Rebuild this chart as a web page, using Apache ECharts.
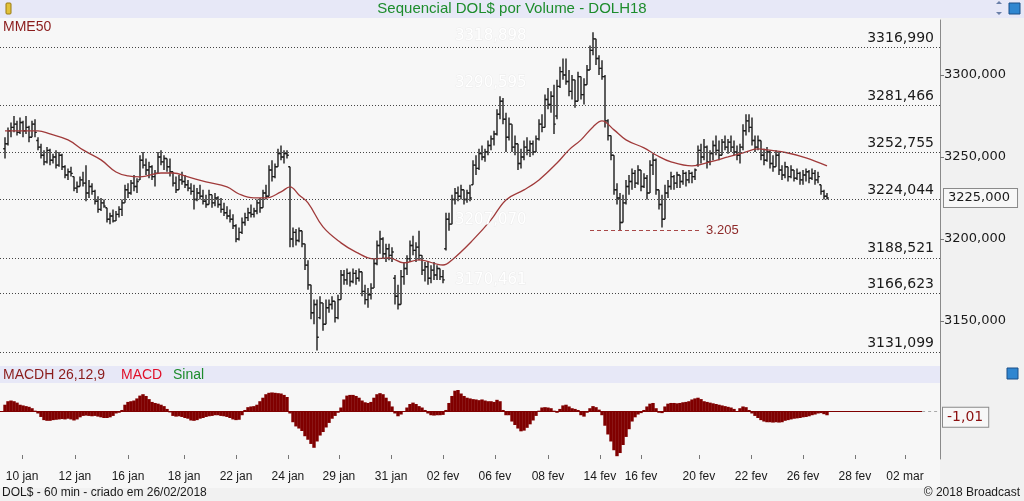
<!DOCTYPE html>
<html><head><meta charset="utf-8">
<script src="https://cdn.jsdelivr.net/npm/echarts@6/dist/echarts.min.js"></script>
<style>html,body{margin:0;padding:0;background:#f1f1f1;}#c{width:1024px;height:501px;}</style>
</head><body><div id="c"></div>
<script>
// [open, high, low, close] per bar
const priceBars = [
[3255,3262,3249,3258],[3258,3268,3257,3266],[3266,3271,3262,3268],[3268,3275,3265,3270],[3270,3272,3263,3265],
[3265,3274,3264,3271],[3271,3272,3262,3266],[3266,3275,3264,3268],[3268,3269,3259,3262],[3262,3272,3262,3270],
[3270,3273,3262,3265],[3260,3262,3254,3256],[3256,3258,3249,3251],[3251,3254,3245,3247],[3247,3256,3246,3254],
[3254,3255,3245,3248],[3248,3252,3246,3250],[3250,3254,3243,3245],[3245,3253,3244,3251],[3251,3252,3242,3244],
[3244,3245,3237,3239],[3239,3243,3236,3241],[3241,3244,3238,3240],[3238,3238,3229,3231],[3231,3235,3228,3232],
[3232,3238,3232,3236],[3236,3241,3232,3234],[3234,3245,3223,3228],[3228,3236,3225,3232],[3232,3234,3227,3229],
[3229,3230,3221,3223],[3223,3226,3216,3218],[3218,3225,3217,3222],[3222,3224,3219,3220],[3219,3219,3210,3212],
[3212,3216,3209,3214],[3214,3218,3210,3211],[3211,3217,3211,3215],[3215,3220,3213,3218],[3218,3224,3214,3222],
[3222,3233,3222,3230],[3230,3234,3225,3228],[3228,3236,3227,3234],[3234,3239,3229,3232],[3232,3237,3228,3235],
[3236,3251,3236,3248],[3248,3253,3243,3245],[3245,3249,3239,3242],[3242,3247,3237,3244],[3244,3245,3236,3238],
[3238,3242,3232,3240],[3240,3253,3240,3250],[3250,3254,3245,3247],[3247,3251,3242,3249],[3249,3249,3241,3244],
[3244,3249,3238,3241],[3241,3241,3232,3234],[3234,3238,3228,3230],[3230,3239,3230,3236],[3236,3241,3233,3235],
[3235,3239,3231,3233],[3233,3236,3229,3231],[3231,3234,3227,3229],[3229,3233,3218,3224],[3224,3231,3223,3228],
[3228,3233,3224,3226],[3226,3230,3221,3223],[3223,3227,3219,3221],[3221,3230,3221,3227],[3227,3227,3219,3222],
[3222,3228,3220,3225],[3225,3226,3219,3221],[3221,3225,3216,3218],[3218,3222,3214,3216],[3216,3220,3212,3214],
[3214,3218,3210,3212],[3212,3215,3206,3208],[3208,3209,3198,3200],[3200,3207,3199,3204],[3204,3213,3203,3210],
[3210,3216,3208,3213],[3213,3219,3211,3216],[3216,3221,3213,3215],[3215,3219,3213,3217],[3217,3224,3215,3222],
[3222,3225,3216,3219],[3219,3230,3219,3228],[3228,3233,3224,3226],[3226,3245,3226,3242],[3242,3248,3235,3238],
[3238,3246,3237,3244],[3244,3255,3244,3252],[3252,3257,3248,3250],[3250,3254,3246,3252],[3252,3254,3249,3251],
[3244,3244,3195,3200],[3200,3207,3195,3204],[3204,3206,3196,3199],[3199,3207,3198,3205],[3205,3205,3195,3197],
[3197,3197,3181,3184],[3184,3187,3169,3172],[3172,3172,3151,3155],[3155,3163,3148,3160],[3160,3163,3132,3140],
[3152,3165,3151,3161],[3161,3161,3144,3148],[3148,3163,3148,3158],[3158,3163,3155,3160],[3160,3165,3157,3162],
[3162,3162,3149,3152],[3152,3166,3151,3163],[3163,3181,3163,3178],[3178,3181,3172,3175],[3175,3182,3172,3179],
[3179,3180,3171,3174],[3174,3182,3173,3179],[3179,3181,3172,3176],[3176,3182,3174,3180],[3180,3180,3165,3168],
[3168,3172,3160,3163],[3163,3170,3158,3166],[3166,3173,3163,3170],[3170,3188,3170,3185],[3185,3199,3184,3196],
[3196,3205,3191,3200],[3200,3201,3188,3191],[3191,3197,3186,3194],[3194,3197,3187,3190],[3190,3195,3186,3192],
[3176,3178,3160,3165],[3165,3172,3157,3160],[3160,3181,3160,3177],[3177,3186,3172,3182],[3182,3190,3178,3188],
[3188,3199,3186,3196],[3196,3202,3190,3193],[3193,3198,3186,3195],[3195,3205,3187,3190],[3190,3190,3178,3181],
[3181,3186,3174,3183],[3183,3186,3172,3176],[3176,3184,3173,3181],[3181,3186,3175,3178],[3178,3184,3175,3182],
[3182,3182,3175,3177],[3177,3181,3173,3175],[3194,3216,3193,3212],[3212,3216,3205,3209],[3209,3227,3209,3224],
[3224,3231,3221,3228],[3228,3232,3223,3226],[3226,3233,3224,3230],[3230,3230,3221,3224],[3224,3230,3222,3228],
[3228,3233,3223,3225],[3233,3248,3233,3245],[3245,3251,3239,3243],[3243,3255,3242,3252],[3252,3257,3248,3250],
[3250,3255,3247,3253],[3253,3260,3251,3257],[3257,3263,3254,3261],[3261,3266,3257,3264],[3264,3279,3263,3276],
[3276,3287,3273,3284],[3284,3286,3270,3273],[3273,3277,3253,3262],[3262,3274,3260,3270],[3270,3270,3253,3256],
[3256,3263,3251,3258],[3258,3258,3242,3246],[3246,3255,3243,3250],[3250,3260,3248,3256],[3256,3262,3251,3254],
[3254,3260,3250,3258],[3258,3260,3251,3253],[3253,3263,3253,3261],[3261,3273,3260,3270],[3270,3276,3265,3268],
[3268,3288,3268,3285],[3285,3292,3279,3282],[3282,3290,3277,3287],[3287,3294,3264,3270],[3275,3297,3273,3293],
[3293,3305,3292,3302],[3302,3310,3297,3300],[3300,3310,3294,3296],[3296,3303,3287,3290],[3290,3300,3285,3297],
[3297,3297,3280,3284],[3284,3302,3284,3299],[3299,3299,3285,3288],[3288,3298,3282,3294],[3294,3306,3294,3303],
[3303,3318,3303,3315],[3315,3326,3312,3322],[3322,3322,3306,3310],[3310,3312,3300,3304],[3304,3309,3297,3299],
[3299,3300,3268,3272],[3272,3273,3260,3263],[3263,3263,3248,3251],[3251,3251,3227,3230],[3230,3234,3221,3225],
[3225,3228,3205,3210],[3210,3227,3210,3222],[3222,3236,3221,3232],[3232,3239,3227,3235],[3235,3243,3230,3240],
[3240,3242,3231,3234],[3234,3245,3233,3242],[3242,3242,3229,3232],[3232,3240,3231,3237],[3237,3239,3224,3228],
[3228,3248,3228,3245],[3245,3252,3239,3248],[3248,3249,3227,3230],[3230,3230,3218,3221],[3221,3227,3207,3212],
[3212,3233,3212,3228],[3228,3236,3225,3232],[3232,3241,3230,3238],[3238,3239,3230,3234],[3234,3241,3231,3239],
[3239,3239,3231,3235],[3235,3242,3233,3240],[3240,3241,3232,3236],[3236,3242,3234,3240],[3240,3241,3234,3238],
[3238,3243,3236,3242],[3245,3257,3244,3254],[3254,3258,3246,3250],[3250,3261,3248,3256],[3256,3257,3243,3247],
[3247,3254,3245,3252],[3252,3260,3248,3257],[3257,3263,3251,3254],[3254,3260,3248,3251],[3251,3261,3251,3259],
[3259,3263,3254,3256],[3256,3261,3252,3259],[3259,3263,3253,3256],[3256,3260,3251,3253],[3253,3257,3248,3251],
[3251,3258,3246,3256],[3256,3270,3254,3266],[3266,3276,3263,3272],[3272,3276,3265,3268],[3268,3274,3257,3260],
[3260,3263,3253,3256],[3256,3263,3254,3260],[3260,3260,3248,3251],[3251,3255,3245,3248],[3248,3256,3247,3253],
[3253,3254,3243,3246],[3246,3251,3241,3244],[3244,3254,3244,3251],[3251,3253,3239,3242],[3242,3245,3236,3239],
[3239,3247,3237,3244],[3244,3244,3235,3238],[3238,3245,3237,3242],[3242,3242,3235,3237],[3237,3243,3236,3240],
[3240,3241,3233,3236],[3236,3242,3233,3239],[3239,3243,3235,3241],[3241,3242,3234,3237],[3237,3243,3236,3240],
[3240,3242,3233,3236],[3236,3241,3234,3238],[3233,3233,3227,3229],[3229,3230,3224,3226],[3226,3228,3224,3225]
];
// MME50 readings (bar index, value)
const mmeIdx = [0,11,15,21,26,32,37,41,45,52,56,61,67,74,78,83,87,92,95,98,101,106,112,117,123,128,133,138,146,149,156,162,167,173,178,184,188,192,196,199,203,207,213,217,222,229,235,241,246,251,254,261,267,274];
const mmeVal = [3265.9,3265.9,3264,3260.4,3254.3,3248.2,3240.8,3238.4,3237.8,3240.2,3240.2,3237.8,3234.8,3231.7,3227.4,3225,3225,3228.7,3231.7,3226.8,3222,3207.3,3197.6,3192,3187.8,3188.4,3185.4,3187.2,3184.1,3187.2,3199.4,3211.6,3223.8,3229.9,3236,3246.3,3254.3,3260.4,3268.3,3272,3266.5,3260.4,3255.5,3251.2,3247,3244.5,3247,3250,3252.5,3254.9,3254.3,3252.4,3249.4,3244.5];
// MACD histogram per bar
const macdHist = [
2.0,3.0,3.2,3.0,2.6,2.0,1.8,1.6,1.4,1.0,
0.3,-0.5,-1.5,-2.4,-2.6,-2.6,-2.4,-2.3,-2.2,-2.1,
-2.2,-2.0,-2.2,-2.5,-2.2,-1.6,-1.2,-1.1,-1.2,-1.3,
-1.2,-1.4,-1.6,-1.8,-1.8,-1.6,-1.2,-0.5,-0.3,0.5,
2.0,2.8,3.0,3.2,3.8,4.6,5.0,4.5,3.6,2.8,
2.5,2.3,2.0,1.6,0.8,-0.2,-1.2,-1.4,-1.3,-1.5,
-1.8,-2.0,-2.5,-2.6,-2.4,-2.0,-1.8,-1.5,-1.3,-1.2,
-1.0,-1.0,-1.2,-1.3,-1.5,-1.8,-2.2,-2.4,-2.3,-1.0,
0.5,1.3,1.5,1.6,2.0,3.0,4.0,5.0,5.4,5.5,
5.4,5.3,5.2,4.8,4.2,-0.5,-3.0,-4.2,-4.8,-5.5,
-7.0,-8.0,-9.2,-10.3,-8.5,-6.8,-5.8,-4.5,-3.2,-2.0,
-1.2,-0.3,1.2,3.5,4.6,4.8,4.8,4.5,4.0,3.2,
2.7,2.5,2.8,4.0,5.0,5.3,5.0,4.0,3.0,1.5,
-0.5,-1.3,-0.8,0.2,1.2,2.2,2.6,2.2,1.6,1.2,
0.5,-0.5,-1.0,-1.1,-1.0,-1.0,-0.9,0.5,2.5,4.5,
6.0,6.2,5.2,4.5,4.0,3.8,3.6,3.5,3.3,3.5,
3.2,3.0,3.0,2.8,3.4,3.0,0.5,-1.0,-1.0,-2.8,
-3.8,-4.8,-5.6,-5.4,-4.6,-3.6,-2.5,-1.2,0.3,1.2,
1.3,1.2,1.0,0.3,-0.3,0.8,1.8,2.0,1.5,1.0,
0.8,0.5,-1.0,-1.4,-0.3,1.0,1.6,1.3,0.6,-1.0,
-4.0,-6.5,-8.5,-11.0,-12.7,-11.8,-9.5,-7.2,-5.0,-2.8,
-1.6,-0.8,-0.4,0.5,1.5,2.3,2.5,1.0,-0.3,-0.4,
1.5,2.3,2.5,2.5,2.4,2.5,2.7,2.8,3.0,3.5,
3.8,4.0,3.6,3.0,2.8,2.6,2.4,2.2,2.0,1.8,
1.6,1.4,1.2,0.8,0.2,1.0,1.5,1.3,0.5,-0.5,
-1.2,-1.8,-2.4,-2.8,-3.0,-3.0,-3.1,-3.0,-3.1,-3.0,
-2.6,-2.4,-2.2,-2.0,-1.9,-1.8,-1.6,-1.5,-1.3,-1.0,
-0.8,-0.5,-0.4,-0.7,-1.01
];
const levelValues = [3316.990, 3281.466, 3252.755, 3224.044, 3188.521, 3166.623, 3131.099];
const ghostLevels = [3318.898, 3290.595, 3207.070, 3170.461];
const supportValue = 3205;
const lastPrice = 3225;
const lastMacd = -1.01;
const priceTicks = [3150, 3200, 3250, 3300];
const dateLabels = ['10 jan','12 jan','16 jan','18 jan','22 jan','24 jan','29 jan','31 jan','02 fev','06 fev','08 fev','14 fev','16 fev','20 fev','22 fev','26 fev','28 fev','02 mar'];
const datePos = [5.7,23.3,41,59.7,77,94.3,111.3,128.7,146,163.3,181,198.3,212,231.3,248.7,266,283.3,300];

const fmt3 = v => v.toFixed(3).replace('.', ',');
const X_MIN = -5/3, X_MAX = -5/3 + 940/3;
const ohlcData = priceBars.map((b, i) => [i, b[0], b[1], b[2], b[3]]);
const mmeData = mmeIdx.map((ix, k) => [ix, mmeVal[k]]);
const macdData = macdHist.map((v, i) => [i, v]);
const labelMap = {}; datePos.forEach((p, k) => labelMap[p] = dateLabels[k]);

const VERD = 'DejaVu Sans';
const ARIAL = 'Liberation Sans, Arial, sans-serif';
const CLEAR = 'rgba(0,0,0,0)';

function renderOHLC(params, api) {
  const i = api.value(0);
  const pO = api.coord([i, api.value(1)]);
  const pH = api.coord([i, api.value(2)]);
  const pL = api.coord([i, api.value(3)]);
  const pC = api.coord([i, api.value(4)]);
  const x = pH[0];
  const st = { stroke: '#1c1c1c', lineWidth: 1.4 };
  return { type: 'group', children: [
    { type: 'line', shape: { x1: x, y1: pH[1], x2: x, y2: pL[1] }, style: st },
    { type: 'line', shape: { x1: x - 1.8, y1: pO[1], x2: x, y2: pO[1] }, style: st },
    { type: 'line', shape: { x1: x, y1: pC[1], x2: x + 1.8, y2: pC[1] }, style: st }
  ]};
}

const levelLines = levelValues.map(v => ({
  yAxis: v,
  lineStyle: { color: '#444', type: [1, 2], width: 1 },
  label: { show: true, position: 'insideEndTop', formatter: fmt3(v), color: '#1a1a1a', fontSize: 14, fontFamily: VERD, distance: [6, 2] }
}));
const ghostLines = ghostLevels.map(v => ([
  { coord: [150, v], lineStyle: { color: CLEAR, width: 0 }, label: { show: true, position: 'insideStartTop', formatter: fmt3(v), color: '#ffffff', fontSize: 15, fontFamily: VERD, distance: [0, 0], textBorderColor: '#ececec', textBorderWidth: 1 } },
  { coord: [172, v] }
]));
const supportLine = [
  { coord: [195, supportValue], lineStyle: { color: '#a84848', type: [4, 3], width: 1 }, label: { show: true, position: 'end', formatter: '3.205', color: '#8e2a2a', fontSize: 13, fontFamily: ARIAL, distance: 6 } },
  { coord: [231.7, supportValue] }
];
const lastPriceLine = {
  yAxis: lastPrice, lineStyle: { color: CLEAR, width: 0 },
  label: { show: true, position: 'end', formatter: fmt3(lastPrice), color: '#1a1a1a', fontSize: 13, fontFamily: VERD,
    backgroundColor: '#f7f7f7', borderColor: '#8a8a8a', borderWidth: 1, padding: [3, 7, 2, 4], distance: 4 }
};

const chart = echarts.init(document.getElementById('c'), null, { renderer: 'canvas' });
chart.setOption({
  animation: false,
  backgroundColor: '#f1f1f1',
  grid: [
    { left: 0, top: 20, width: 940, height: 337, show: true, backgroundColor: '#f7f7f7', borderWidth: 0 },
    { left: 0, top: 383, width: 940, height: 76, show: true, backgroundColor: '#f7f7f7', borderWidth: 0 }
  ],
  xAxis: [
    { type: 'value', gridIndex: 0, min: X_MIN, max: X_MAX, show: false },
    { type: 'value', gridIndex: 1, min: X_MIN, max: X_MAX,
      axisLine: { show: false, onZero: false }, splitLine: { show: false },
      axisTick: { show: true, inside: true, length: 4, lineStyle: { color: '#777' }, customValues: datePos },
      axisLabel: { show: true, customValues: datePos, formatter: v => labelMap[v] || '', color: '#1a1a1a', fontSize: 12, fontFamily: ARIAL, margin: 12 } }
  ],
  yAxis: [
    { type: 'value', gridIndex: 0, position: 'right', min: 3128, max: 3333.5,
      axisLine: { show: true, onZero: false, lineStyle: { color: '#8a8a8a' } }, splitLine: { show: false },
      axisTick: { show: true, length: 4, lineStyle: { color: '#777' }, customValues: priceTicks },
      axisLabel: { show: true, customValues: priceTicks, formatter: v => fmt3(v), color: '#1a1a1a', fontSize: 13, fontFamily: VERD, margin: 4 } },
    { type: 'value', gridIndex: 1, position: 'right', min: -13.5, max: 8.2,
      axisLine: { show: true, onZero: false, lineStyle: { color: '#8a8a8a' } }, splitLine: { show: false },
      axisTick: { show: false }, axisLabel: { show: false } }
  ],
  graphic: [
    { type: 'rect', z: -10, shape: { x: 0, y: 0, width: 1024, height: 18 }, style: { fill: '#e7e8f7' } },
    { type: 'rect', z: -10, shape: { x: 0, y: 18, width: 940, height: 470 }, style: { fill: '#f7f7f7' } },
    { type: 'rect', z: 5, shape: { x: 0, y: 366, width: 940, height: 17 }, style: { fill: '#e7e8f7' } },
    { type: 'line', z: 5, shape: { x1: 940.5, y1: 357, x2: 940.5, y2: 383 }, style: { stroke: '#8a8a8a', lineWidth: 1 } },
    { type: 'text', z: 6, x: 512, y: 9, style: { text: 'Sequencial DOL$ por Volume - DOLH18', fill: '#1d8c2c', font: '15px ' + ARIAL, textAlign: 'center', textVerticalAlign: 'middle' } },
    { type: 'text', z: 6, x: 3, y: 27, style: { text: 'MME50', fill: '#8b1c1c', font: '14px ' + ARIAL, textVerticalAlign: 'middle' } },
    { type: 'text', z: 6, x: 3, y: 375, style: { text: 'MACDH 26,12,9', fill: '#8b1c1c', font: '14px ' + ARIAL, textVerticalAlign: 'middle' } },
    { type: 'text', z: 6, x: 121, y: 375, style: { text: 'MACD', fill: '#e0102a', font: '14px ' + ARIAL, textVerticalAlign: 'middle' } },
    { type: 'text', z: 6, x: 173, y: 375, style: { text: 'Sinal', fill: '#1d8c2c', font: '14px ' + ARIAL, textVerticalAlign: 'middle' } },
    { type: 'text', z: 6, x: 2, y: 493, style: { text: 'DOL$ - 60 min - criado em 26/02/2018', fill: '#1a1a1a', font: '12px ' + ARIAL, textVerticalAlign: 'middle' } },
    { type: 'text', z: 6, x: 1020, y: 493, style: { text: '© 2018 Broadcast', fill: '#1a1a1a', font: '12px ' + ARIAL, textAlign: 'right', textVerticalAlign: 'middle' } },
    { type: 'rect', z: 6, shape: { x: 6, y: 3, width: 5, height: 11, r: 1 }, style: { fill: '#e2c23a', stroke: '#9a7a10', lineWidth: 1 } },
    { type: 'polygon', z: 6, shape: { points: [[996, 4], [999, 1], [1002, 4]] }, style: { fill: '#6a7fa8' } },
    { type: 'polygon', z: 6, shape: { points: [[996, 12], [999, 15], [1002, 12]] }, style: { fill: '#6a7fa8' } },
    { type: 'rect', z: 6, shape: { x: 1009, y: 3, width: 11, height: 11 }, style: { fill: '#2f86d0', stroke: '#1a4f88', lineWidth: 1 } },
    { type: 'rect', z: 6, shape: { x: 1007, y: 368, width: 11, height: 11 }, style: { fill: '#2f86d0', stroke: '#1a4f88', lineWidth: 1 } }
  ],
  series: [
    { type: 'custom', name: 'DOL$', xAxisIndex: 0, yAxisIndex: 0, renderItem: renderOHLC, data: ohlcData,
      encode: { x: 0, y: [1, 2, 3, 4] }, clip: true, z: 3 },
    { type: 'line', name: 'MME50', xAxisIndex: 0, yAxisIndex: 0, data: mmeData, smooth: 0.4, showSymbol: false,
      clip: false, lineStyle: { color: '#a03a3a', width: 1.3 }, z: 4,
      markLine: { silent: true, symbol: ['none', 'none'], animation: false,
        data: [...levelLines, ...ghostLines, supportLine, lastPriceLine] } },
    { type: 'bar', name: 'MACDH', xAxisIndex: 1, yAxisIndex: 1, data: macdData, barWidth: 3.4,
      clip: false, itemStyle: { color: '#800000' }, z: 3,
      markLine: { silent: true, symbol: ['none', 'none'], animation: false,
        data: [
          [{ coord: [X_MIN, 0], lineStyle: { color: '#800000', type: 'solid', width: 1 }, label: { show: false } }, { coord: [305.7, 0] }],
          [{ coord: [305.7, 0], lineStyle: { color: '#aaaaaa', type: [3, 3], width: 1 }, label: { show: false } }, { coord: [X_MAX, 0] }],
          { yAxis: lastMacd, lineStyle: { color: CLEAR, width: 0 },
            label: { show: true, position: 'end', formatter: '-1,01', color: '#8b1010', fontSize: 14, fontFamily: VERD,
              backgroundColor: '#f7f7f7', borderColor: '#8a8a8a', borderWidth: 1, padding: [3, 5, 2, 4], distance: 3, offset: [0, 2] } }
        ] } }
  ]
});
</script>
</body></html>
